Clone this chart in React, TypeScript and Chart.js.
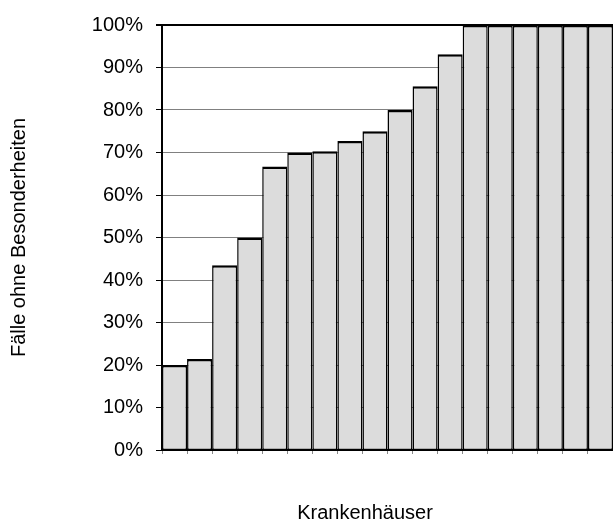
import React, { useEffect, useRef } from "react";
import { Chart, registerables } from "chart.js";

Chart.register(...registerables);

const hospitals: string[] = [
  "1", "2", "3", "4", "5", "6", "7", "8", "9",
  "10", "11", "12", "13", "14", "15", "16", "17", "18",
];
const shareWithoutIssues: number[] = [
  20, 21.4, 43.5, 50, 66.7, 70, 70.3, 72.7, 75, 80, 85.6, 93.1,
  100, 100, 100, 100, 100, 100,
];
const yTicks: number[] = [0, 10, 20, 30, 40, 50, 60, 70, 80, 90, 100];
const yTitle = "Fälle ohne Besonderheiten";
const xTitle = "Krankenhäuser";

const FONT = "'Liberation Sans', Arial, Helvetica, sans-serif";

export default function App() {
  const ref = useRef<HTMLCanvasElement | null>(null);

  useEffect(() => {
    if (!ref.current) return;
    const chart = new Chart(ref.current, {
      type: "bar",
      data: {
        labels: hospitals,
        datasets: [
          {
            data: shareWithoutIssues,
            backgroundColor: "#dcdcdc",
            borderColor: "#000000",
            borderWidth: { top: 2.5, left: 1.5, right: 1.5, bottom: 1 },
            borderSkipped: false,
            barPercentage: 1,
            categoryPercentage: 1,
            inflateAmount: 0,
          },
        ],
      },
      options: {
        responsive: false,
        animation: false,
        layout: { padding: { top: 22, right: -2, left: 0, bottom: 0 } },
        plugins: {
          legend: { display: false },
          tooltip: { enabled: false },
        },
        scales: {
          x: {
            offset: true,
            ticks: { display: false },
            grid: {
              display: true,
              drawOnChartArea: false,
              drawTicks: true,
              tickLength: 4,
              tickColor: "#888888",
              offset: true,
            },
            border: { display: true, color: "#000000", width: 1.5 },
            afterFit: (scale: any) => {
              scale.height = 72;
            },
          },
          y: {
            min: 0,
            max: 100,
            afterBuildTicks: (scale: any) => {
              scale.ticks = yTicks.map((v) => ({ value: v }));
            },
            ticks: {
              callback: (v: any) => v + "%",
              color: "#000000",
              padding: 13,
              font: { family: FONT, size: 20 },
            },
            grid: {
              color: (ctx: any) =>
                ctx.tick && (ctx.tick.value === 100 || ctx.tick.value === 0)
                  ? "#000000"
                  : "#808080",
              lineWidth: (ctx: any) =>
                ctx.tick && ctx.tick.value === 100 ? 2 : 1,
              tickColor: "#000000",
              tickLength: 6,
            },
            border: { display: true, color: "#000000", width: 2 },
            title: {
              display: true,
              text: yTitle,
              color: "#000000",
              font: { family: FONT, size: 20, lineHeight: 1.2 },
              padding: { top: 7, bottom: 0 },
            },
            afterFit: (scale: any) => {
              scale.width = 162;
            },
          },
        },
      },
    });
    return () => chart.destroy();
  }, []);

  return (
    <div
      style={{
        position: "absolute",
        left: 0,
        top: 0,
        width: 613,
        height: 522,
        overflow: "hidden",
        background: "#ffffff",
      }}
    >
      <canvas ref={ref} width={613} height={522} style={{ display: "block" }} />
      <div
        style={{
          position: "absolute",
          left: 365,
          top: 500,
          transform: "translateX(-50%)",
          whiteSpace: "nowrap",
          fontFamily: FONT,
          fontSize: 20,
          lineHeight: "24px",
          color: "#000000",
        }}
      >
        {xTitle}
      </div>
    </div>
  );
}
